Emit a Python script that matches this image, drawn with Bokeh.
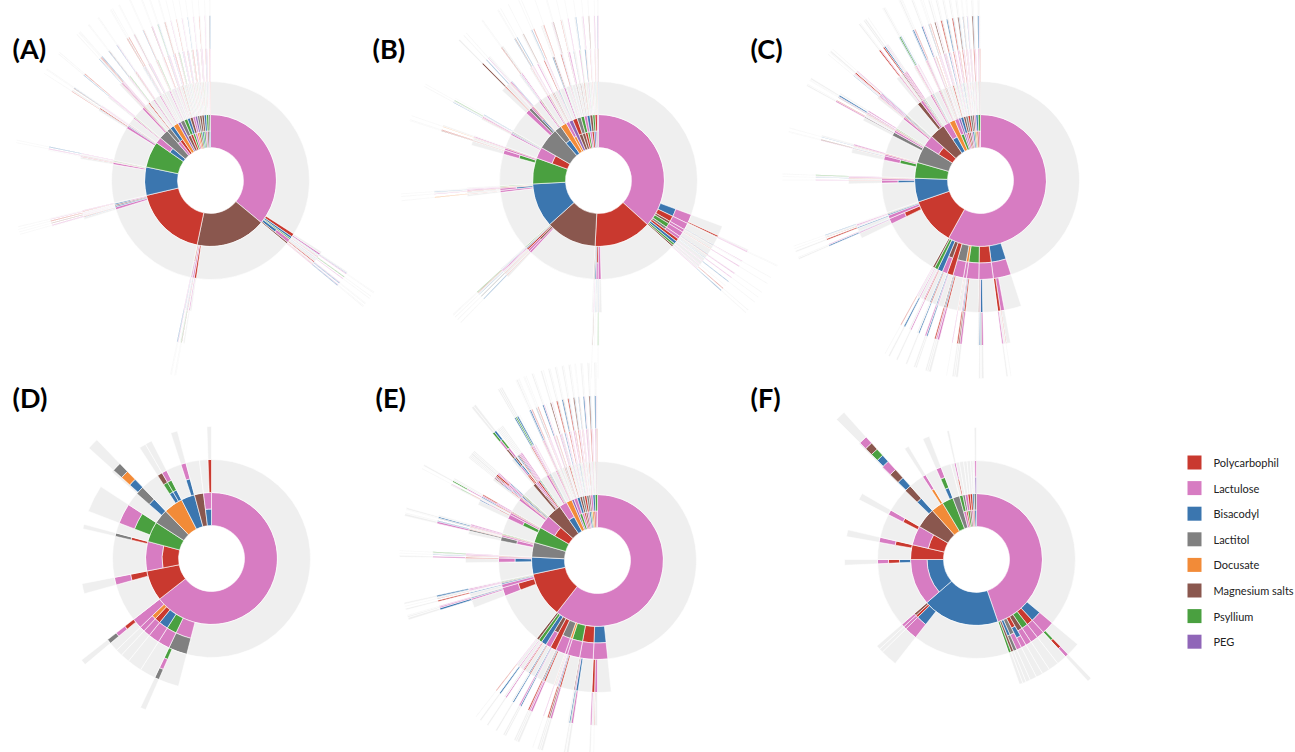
import math
from bokeh.plotting import figure
from bokeh.models import ColumnDataSource, Range1d
from bokeh.embed import file_html
from bokeh.resources import INLINE
from bokeh.core.properties import value

# ---------------- legend / categories ----------------
drug_codes = ["P", "L", "B", "T", "D", "M", "Y", "G"]
drug_names = ["Polycarbophil", "Lactulose", "Bisacodyl", "Lactitol",
              "Docusate", "Magnesium salts", "Psyllium", "PEG"]
drug_colors = ["#c9392f", "#d77cc2", "#3b76af", "#808080",
               "#f28b38", "#8a574e", "#4aa040", "#9066b8"]
stop_color = "#efefef"

panel_labels = ["(A)", "(B)", "(C)", "(D)", "(E)", "(F)"]

# Treatment pathways: "X>Y" = X then Y; multi-letter step = combination
# (bands inner -> outer); count = patients ending at that path.
A_paths = [
    ("L", 490), ("L>P", 4), ("L>P>L", 2), ("L>P>L>B>P", 1), ("L>P>B>L>P", 1),
    ("L>B", 3), ("L>B>P", 1), ("L>B>L>Y>P", 1), ("L>Y", 2), ("L>Y>B>L", 1),
    ("L>BL", 5), ("L>BL>P", 1), ("L>BL>L>B>P", 1), ("L>BL>P>L>B", 1),
    ("L>M", 2), ("L>M>P>L", 1), ("L>M>L>B>P", 1),
    ("M", 234), ("M>P", 3), ("M>P>L", 2), ("M>L", 2), ("M>L>P>M>L", 1), ("M>B>L", 1),
    ("M>PL", 2), ("M>PL>B>L>P", 1), ("M>Y>L>B", 1), ("M>L>B>Y>P", 1),
    ("P", 244), ("P>L", 4), ("P>L>B", 1), ("P>L>P>L", 1), ("P>B", 2), ("P>B>L>M", 1),
    ("P>M", 2), ("P>M>L>P>B", 1), ("P>LB", 2), ("P>LB>P>L", 1), ("P>T>L", 1),
    ("B", 90), ("B>L", 4), ("B>L>P", 1), ("B>P>L", 1), ("B>PL>M>L", 1), ("B>Y", 2),
    ("B>M>L>B>P", 1),
    ("Y", 80), ("Y>L", 3), ("Y>L>B>P", 1), ("Y>B", 2), ("Y>P>L>M>B", 1),
    ("Y>PL>L>B>Y", 1), ("Y>T>L", 1), ("Y>M", 1), ("Y>L>P", 2),
    ("BL", 16), ("BL>L", 3), ("BL>P>L>B", 1), ("BL>M>L", 1), ("BL>Y>L>P>B", 1),
    ("T", 24), ("T>L", 4), ("T>L>P>B>L", 1), ("T>P>L", 2), ("T>BL>M>P>L", 1),
    ("T>M>L>P", 1), ("T>Y>L>B>P", 1),
    ("LT", 9), ("LT>P", 2), ("LT>P>L>B", 1), ("LT>B>L>M>P", 1), ("LT>M>Y", 1),
    ("PB", 9), ("PB>L", 2), ("PB>L>M>B", 1), ("PB>M>P>L>Y", 1), ("PB>Y>L", 1),
    ("D", 12), ("D>L", 2), ("D>L>B>P", 1), ("D>P>L>M>B", 1), ("D>B>Y", 1), ("D>M>L>P", 1),
    ("G", 6), ("G>L>P", 1), ("G>P>B>L", 1), ("G>B>L>M>P", 1), ("G>Y>L", 1),
    ("MT", 9), ("MT>L", 2), ("MT>L>P>B", 1), ("MT>B>L>P>M", 1), ("MT>P>Y", 1),
    ("PY", 8), ("PY>L", 2), ("PY>B>L>M", 1), ("PY>M>P>L>B", 1),
    ("YB", 6), ("YB>L>P", 1), ("YB>P>L>B>M", 1), ("YB>M>L", 1), ("YB>L>B>Y", 1),
    ("LM", 6), ("LM>P>B", 1), ("LM>B>L>P>Y", 1), ("LM>Y>P", 1), ("LM>P>L>M>B", 1),
    ("DL", 5), ("DL>P>L", 1), ("DL>B>M>L>P", 1), ("DL>M>Y", 1),
    ("PG", 5), ("PG>L>B", 1), ("PG>B>L>P>M", 1), ("PG>Y>L", 1),
    ("YT", 5), ("YT>L>P", 1), ("YT>P>B>L>M", 1), ("YT>M>L", 1),
    ("BM", 5), ("BM>L>Y", 1), ("BM>P>L>B>Y", 1), ("BM>Y>P", 1),
    ("YM", 5), ("YM>L>B", 1), ("YM>B>P>L>M", 1), ("YM>P>L", 1),
    ("LB", 5), ("LB>P>M", 1), ("LB>M>L>P>B", 1), ("LB>Y>L", 1),
    ("MY", 5), ("MY>L>P", 1), ("MY>P>B>L>Y", 1), ("MY>B>L", 1),
    ("BT", 4), ("BT>L>P>M", 1), ("BT>P>L>B>Y", 1),
]

B_paths = [
    ("L", 441), ("L>BL", 18), ("L>BL>P", 2), ("L>BL>P>L>B", 1), ("L>BL>M>L", 1),
    ("L>PL", 14), ("L>PL>B>L", 1), ("L>PL>M", 1), ("L>ML", 6), ("L>ML>P>L>Y", 1),
    ("L>YL", 10), ("L>YL>B", 1), ("L>YL>P>L>B", 1), ("L>TL", 6), ("L>TL>B>L", 1),
    ("L>P", 6), ("L>P>L>B", 1), ("L>B", 6), ("L>B>L", 1), ("L>Y", 4), ("L>Y>L>P", 1),
    ("L>M", 3), ("L>M>L>B>P", 1),
    ("P", 186), ("P>L", 5), ("P>L>P", 1), ("P>L>B>Y>P", 1), ("P>PL", 4), ("P>PL>B", 1),
    ("P>B", 2), ("P>B>L>M>T", 1), ("P>Y>L", 1), ("P>M", 2),
    ("M", 160), ("M>L", 4), ("M>L>P>B", 1), ("M>ML", 4), ("M>ML>P>T", 1), ("M>P", 3),
    ("M>P>L>B>M", 1), ("M>B>L", 2), ("M>T>L>P", 1), ("M>PL>B>Y", 1), ("M>Y", 2),
    ("B", 140), ("B>L", 4), ("B>L>P>D", 1), ("B>BL", 4), ("B>BL>P>L", 1), ("B>P>L", 2),
    ("B>M>L>B", 1), ("B>D>L", 1), ("B>Y", 2),
    ("Y", 74), ("Y>YL", 8), ("Y>YL>P>M>B", 1), ("Y>YL>M>P>L", 1), ("Y>L", 4),
    ("Y>L>P>D>B", 1), ("Y>P>L", 2), ("Y>B", 1),
    ("PL", 30), ("PL>L", 3), ("PL>L>P>B", 1), ("PL>B>L", 2), ("PL>M>L>Y>P", 1),
    ("PL>T", 2), ("PL>Y>B", 1),
    ("T", 52), ("T>L", 8), ("T>L>P>M", 2), ("T>T", 6), ("T>T>L>B", 1), ("T>BL", 3),
    ("T>BL>P>L>M", 1), ("T>P>L", 2), ("T>M>B", 1),
    ("BT", 16), ("BT>L", 3), ("BT>L>B>P", 1), ("BT>P>L>M>B", 1), ("BT>M>L", 2), ("BT>Y", 1),
    ("D", 14), ("D>L", 3), ("D>L>P>B", 1), ("D>B>L>M", 1), ("D>P", 2), ("D>M>L>B>P", 1),
    ("DL", 7), ("DL>P>L", 2), ("DL>B>L>M>P", 1), ("DL>M", 2),
    ("G", 8), ("G>L>P", 2), ("G>P>L>B>M", 1), ("G>B", 2), ("G>Y>L>P", 1),
    ("MP", 10), ("MP>L>B", 2), ("MP>B>L>P>Y", 1), ("MP>L>M", 2), ("MP>Y", 1),
    ("MT", 9), ("MT>L>P", 2), ("MT>P>B>L", 1), ("MT>Y>L>M>B", 1), ("MT>B", 1),
    ("PY", 8), ("PY>L>M", 1), ("PY>B>L>P>Y", 1), ("PY>M>L", 2),
    ("YL", 6), ("YL>P>B", 1), ("YL>B>M>L>P", 1), ("YL>M", 2),
    ("LB", 6), ("LB>P>L", 2), ("LB>M>Y>B>L", 1), ("LB>Y", 1),
    ("PM", 6), ("PM>L>B", 2), ("PM>B>P>L>Y", 1), ("PM>Y", 1),
    ("BY", 5), ("BY>L>P", 1), ("BY>P>L>M>B", 1), ("BY>M", 1),
    ("LP", 5), ("LP>B>L", 1), ("LP>M>P>L>Y", 1), ("LP>Y", 1),
    ("TL", 2), ("TL>P>L>B", 1), ("TL>B>M>L>P", 1),
]

C_paths = [
    ("L", 648), ("L>BL", 30), ("L>BL>L", 6), ("L>BL>P>L>B", 2), ("L>BL>L>P>B>Y", 1),
    ("L>BL>P", 3), ("L>PL", 26), ("L>PL>B>L", 3), ("L>PL>L>B>P", 2), ("L>PL>M", 2),
    ("L>PL>B>Y>L", 1), ("L>YL", 22), ("L>YL>P>L", 3), ("L>YL>B>M>L", 2), ("L>YL>L>P", 2),
    ("L>DL", 6), ("L>DL>P>L>B", 1), ("L>TL", 18), ("L>TL>P>L", 3), ("L>TL>B>L>Y", 2),
    ("L>TL>M>P", 2), ("L>P", 10), ("L>P>L>B", 2), ("L>P>B>L>M", 2), ("L>ML", 8),
    ("L>ML>P>B>L", 2), ("L>ML>B", 2), ("L>B", 8), ("L>B>P>L>Y", 2), ("L>B>L", 2),
    ("L>Y", 6), ("L>Y>L>B>P", 2), ("L>M", 4), ("L>M>L>P>B", 1),
    ("P", 140), ("P>PL", 10), ("P>PL>L>B", 2), ("P>PL>B>L>P", 1), ("P>L", 6),
    ("P>L>B>P>L", 2), ("P>B", 2), ("P>B>L>M", 1), ("P>M>L", 2), ("P>Y>L>B>P", 1), ("P>T", 1),
    ("B", 70), ("B>BL", 6), ("B>BL>P>L>M", 1), ("B>L", 3), ("B>L>P>B", 1), ("B>P>L", 2),
    ("B>M>L>Y", 1),
    ("Y", 40), ("Y>YL", 8), ("Y>YL>P>L>B", 1), ("Y>YL>B>M>L>P", 1), ("Y>L", 3),
    ("Y>L>P>B>L", 1), ("Y>P>L", 2),
    ("T", 44), ("T>T", 6), ("T>T>T>L", 2), ("T>T>L>P>B", 1), ("T>L", 4), ("T>L>P>T", 1),
    ("T>BL>M>L", 1), ("T>P>L>B", 2), ("T>M", 1), ("T>Y>L", 2),
    ("PL", 26), ("PL>L", 4), ("PL>L>P>B>M", 1), ("PL>P>L", 2), ("PL>PL>B>L>M", 1),
    ("PL>B>L>P", 2), ("PL>M>L", 2), ("PL>Y>B>L", 1), ("PL>T", 1),
    ("M", 34), ("M>M", 6), ("M>M>L>P>B", 2), ("M>M>P>L", 1), ("M>L", 4), ("M>L>M>P>B", 2),
    ("M>P>L>B>M", 2), ("M>B>L", 2), ("M>ML>P>L>Y", 1), ("M>Y>L", 2),
    ("BL", 14), ("BL>L", 3), ("BL>L>P>B>M", 1), ("BL>P>L>Y", 2), ("BL>M>L>B>P", 1),
    ("BL>B", 2), ("BL>Y>L", 1),
    ("D", 12), ("D>L", 2), ("D>L>P>B>M", 1), ("D>P>L>B", 2), ("D>B>M>L", 1),
    ("D>M>L>P>Y", 1), ("D>Y", 1),
    ("YL", 8), ("YL>P>L>B", 2), ("YL>B>M>L>P", 1), ("YL>M", 2), ("YL>L>P", 1),
    ("G", 4), ("G>L>P>B", 1), ("G>P>L>M>B", 1), ("G>B>L", 1), ("G>Y>L>P", 1),
    ("LB", 5), ("LB>P>L>M", 2), ("LB>M>P>L>B", 1), ("LB>Y>L", 1), ("LB>P>B", 1),
    ("PM", 4), ("PM>L>B>P", 2), ("PM>B>L>M>Y", 1), ("PM>Y>L", 1),
    ("MT", 4), ("MT>L>P>B", 2), ("MT>P>L>M>B", 1), ("MT>B>L", 1),
    ("LP", 4), ("LP>B>L>P", 2), ("LP>M>L>B>Y", 1), ("LP>Y>P", 1),
    ("BT", 4), ("BT>L>P>M", 2), ("BT>P>L>B>Y", 1), ("BT>M>L", 1),
    ("YM", 3), ("YM>L>P>B", 1), ("YM>P>L>M>B", 1), ("YM>B>L", 1),
    ("DL", 3), ("DL>P>L>B", 1), ("DL>B>M>L>P", 1), ("DL>M>L", 1),
    ("PB", 4), ("PB>L>P>M", 2), ("PB>M>L>B>Y", 1), ("PB>Y>L", 1),
    ("LY", 4), ("LY>P>L>B", 2), ("LY>B>M>L>P", 1), ("LY>M>P", 1),
]

D_paths = [
    ("L", 778), ("L>LT", 36), ("L>LT>YLT", 8), ("L>YL", 28), ("L>BL", 26), ("L>PL", 16),
    ("L>DL", 12), ("L>L", 16), ("L>L>PLT", 8),
    ("P", 90), ("P>PL", 18),
    ("PL", 96), ("PL>PT", 8),
    ("Y", 24), ("Y>YL", 48),
    ("T", 32), ("T>BT", 4), ("T>BT>BDT", 16),
    ("D", 44), ("D>BYM", 12), ("D>BYL", 12),
    ("B", 36), ("B>BL", 12),
    ("M", 32),
    ("BL", 20), ("BL>P", 8),
]

E_paths = [
    ("L", 696), ("L>BL", 24), ("L>BL>L", 4), ("L>BL>P>L>B", 2), ("L>BL>L>P>B>Y", 1),
    ("L>BL>P", 3), ("L>PL", 24), ("L>PL>B>L", 3), ("L>PL>L>B>P", 2), ("L>PL>M", 2),
    ("L>PL>B>Y>L", 1), ("L>YL", 22), ("L>YL>P>L", 3), ("L>YL>B>M>L", 2), ("L>YL>L>P", 2),
    ("L>DL", 5), ("L>DL>P>L>B", 1), ("L>TL", 16), ("L>TL>P>L", 3), ("L>TL>B>L>Y", 2),
    ("L>TL>M>P", 2), ("L>P", 10), ("L>P>L>B", 2), ("L>P>B>L>M", 2), ("L>ML", 8),
    ("L>ML>P>B>L", 2), ("L>ML>B", 2), ("L>B", 8), ("L>B>P>L>Y", 2), ("L>B>L", 2),
    ("L>Y", 6), ("L>Y>L>B>P", 2), ("L>M", 5), ("L>M>L>P>B", 1),
    ("P", 124), ("P>PL", 14), ("P>PL>L>B", 3), ("P>PL>B>L>P", 2), ("P>PL>M>L>Y>B", 1),
    ("P>L", 6), ("P>L>B>P>L", 2), ("P>B", 2), ("P>B>L>M", 1), ("P>M>L", 2),
    ("P>Y>L>B>P", 2), ("P>T", 1),
    ("B", 44), ("B>BL", 8), ("B>BL>P>L>M", 2), ("B>L", 2), ("B>L>P>B", 1), ("B>P>L", 2),
    ("B>M>L>Y", 1),
    ("T", 34), ("T>LT", 6), ("T>LT>T>L", 3), ("T>LT>P>B", 1), ("T>L", 3), ("T>L>P>T", 1),
    ("T>P>L>B", 2), ("T>Y>L", 2),
    ("Y", 36), ("Y>YL", 8), ("Y>YL>PLB", 2), ("Y>YL>BML>PYL", 1), ("Y>L", 3),
    ("Y>L>PB>LY", 2), ("Y>P>L", 2), ("Y>M>LP", 2),
    ("PL", 30), ("PL>L", 4), ("PL>L>PBM", 2), ("PL>P>L", 2), ("PL>PL>BLM", 2),
    ("PL>B>LP", 3), ("PL>M>L", 2), ("PL>Y>BL", 2), ("PL>T", 1),
    ("M", 30), ("M>M", 4), ("M>M>PLB>MLY", 3), ("M>ML>PBM>LYB", 3), ("M>L>MPB", 2),
    ("M>P>LBM", 2), ("M>B>L", 2), ("M>Y>L", 2), ("M>L", 2), ("M>P>L", 2),
    ("BL", 16), ("BL>L", 3), ("BL>L>P>B>M", 2), ("BL>P>L>Y", 2), ("BL>M>L>B>P", 2),
    ("BL>B", 2), ("BL>Y>L", 1),
    ("D", 12), ("D>L", 2), ("D>L>P>B>M", 1), ("D>P>L>B", 2), ("D>B>M>L", 1),
    ("D>M>L>P>Y", 1), ("D>Y", 1),
    ("G", 4), ("G>L>P>B", 1), ("G>P>L>M>B", 1), ("G>B>L", 1), ("G>Y>L>P", 1),
    ("YL", 6), ("YL>P>L>B", 2), ("YL>B>M>L>P", 1), ("YL>M", 2), ("YL>L>P", 1),
    ("LB", 5), ("LB>P>L>M", 2), ("LB>M>P>L>B", 1), ("LB>Y>L", 1), ("LB>P>B", 1),
    ("PM", 4), ("PM>L>B>P", 2), ("PM>B>L>M>Y", 1), ("PM>Y>L", 1),
    ("MT", 4), ("MT>L>P>B", 2), ("MT>P>L>M>B", 1), ("MT>B>L", 1),
    ("LP", 4), ("LP>B>L>P", 2), ("LP>M>L>B>Y", 1), ("LP>Y>P", 1),
    ("BT", 4), ("BT>L>P>M", 2), ("BT>P>L>B>Y", 1), ("BT>M>L", 1),
    ("YM", 3), ("YM>L>P>B", 1), ("YM>P>L>M>B", 1), ("YM>B>L", 1),
    ("DL", 4), ("DL>P>L>B", 2), ("DL>B>M>L>P", 1), ("DL>M>L", 1),
    ("PB", 4), ("PB>L>P>M", 2), ("PB>M>L>B>Y", 1), ("PB>Y>L", 1),
    ("LY", 4), ("LY>P>L>B", 2), ("LY>B>M>L>P", 1), ("LY>M>P", 1),
]

F_paths = [
    ("L", 520), ("L>BL", 24), ("L>BL>YPL", 6), ("L>PL", 18), ("L>YL", 18), ("L>ML", 14),
    ("L>PBL", 12), ("L>TL", 12), ("L>BT", 8), ("L>M", 6), ("L>Y", 6),
    ("B", 228), ("B>BL", 30), ("B>PL", 7), ("B>ML", 7),
    ("BL", 154), ("BL>BPL", 10),
    ("P", 40), ("P>PL", 12),
    ("PL", 56), ("PL>PL", 12),
    ("M", 56), ("M>BM", 2), ("M>BM>BML", 2), ("M>BM>BML>BYML", 12),
    ("D", 36), ("D>DL", 8),
    ("Y", 28), ("Y>BYL", 12),
    ("T", 24),
    ("LY", 8), ("LY>PL", 4),
    ("PT", 8), ("YL", 10), ("MP", 8), ("LP", 8), ("PB", 6),
    ("BT", 4), ("BT>GL", 4),
]

panels = [A_paths, B_paths, C_paths, D_paths, E_paths, F_paths]

# ---------------- geometry (reference pixel coordinates) ----------------
W, H = 1295, 752
centers = [(210, 180), (598, 180), (980, 180), (211, 558), (597, 560), (976, 559)]
label_pos = [(12, 48), (372, 48), (750, 48), (12, 397), (375, 397), (750, 397)]
R0 = 33.0          # ring thickness (and radius of the central hole)
MAX_LEVELS = 4     # treatment lines shown

color_of = dict(zip(drug_codes, drug_colors))


def build(paths):
    root = {"n": 0, "stop": 0, "kids": {}}
    for path, n in paths:
        node = root
        node["n"] += n
        for step in path.split(">")[:MAX_LEVELS]:
            kids = node["kids"]
            if step not in kids:
                kids[step] = {"n": 0, "stop": 0, "kids": {}}
            node = kids[step]
            node["n"] += n
        node["stop"] += n
    return root


wx, wy, wri, wro, wsa, wea, wc = [], [], [], [], [], [], []


def add(cx, cy, ri, ro, f0, f1, col):
    wx.append(cx)
    wy.append(H - cy)
    wri.append(ri)
    wro.append(ro)
    wsa.append(math.pi / 2 - 2 * math.pi * f0)
    wea.append(math.pi / 2 - 2 * math.pi * f1)
    wc.append(col)


def layout(root, cx, cy):
    total = float(root["n"])

    def rec(node, depth, f0):
        f = f0
        if depth > 0 and node["stop"] > 0:
            f1 = f + node["stop"] / total
            add(cx, cy, R0 * (depth + 1), R0 * (depth + 2), f, f1, stop_color)
            f = f1
        for step, kid in node["kids"].items():
            f1 = f + kid["n"] / total
            m = len(step)
            for i, code in enumerate(step):
                ri = R0 * (depth + 1) + R0 * i / m
                ro = R0 * (depth + 1) + R0 * (i + 1) / m
                add(cx, cy, ri, ro, f, f1, color_of[code])
            rec(kid, depth + 1, f)
            f = f1

    rec(root, 0, 0.0)


for paths, (cx, cy) in zip(panels, centers):
    layout(build(paths), cx, cy)

src = ColumnDataSource(dict(x=wx, y=wy, ri=wri, ro=wro, sa=wsa, ea=wea, c=wc))

p = figure(width=W, height=H, output_backend="svg", toolbar_location=None,
           x_range=Range1d(0, W), y_range=Range1d(0, H), min_border=0)
p.axis.visible = False
p.grid.visible = False
p.outline_line_color = None
p.background_fill_color = "white"

p.annular_wedge(x="x", y="y", inner_radius="ri", outer_radius="ro",
                start_angle="sa", end_angle="ea", direction="clock",
                fill_color="c", line_color="white", line_width=0.6, source=src)

# panel labels
p.text(x=[lp[0] for lp in label_pos], y=[H - lp[1] for lp in label_pos], text=panel_labels,
       text_font=value("Lato"), text_font_style="bold", text_font_size="27px",
       text_align="left", text_baseline="middle", text_color="black")

# legend
leg_x0, leg_y0, leg_dy, sq = 1187, 462, 25.6, 14
ly = [H - (leg_y0 + i * leg_dy) for i in range(len(drug_names))]
p.rect(x=[leg_x0 + sq / 2] * len(drug_names), y=ly, width=sq, height=sq,
       fill_color=drug_colors, line_color=None)
p.text(x=[1213] * len(drug_names), y=ly, text=drug_names,
       text_font=value("Lato"), text_font_size="11px",
       text_align="left", text_baseline="middle", text_color="#222222")

open("out.html", "w").write(file_html(p, INLINE))
